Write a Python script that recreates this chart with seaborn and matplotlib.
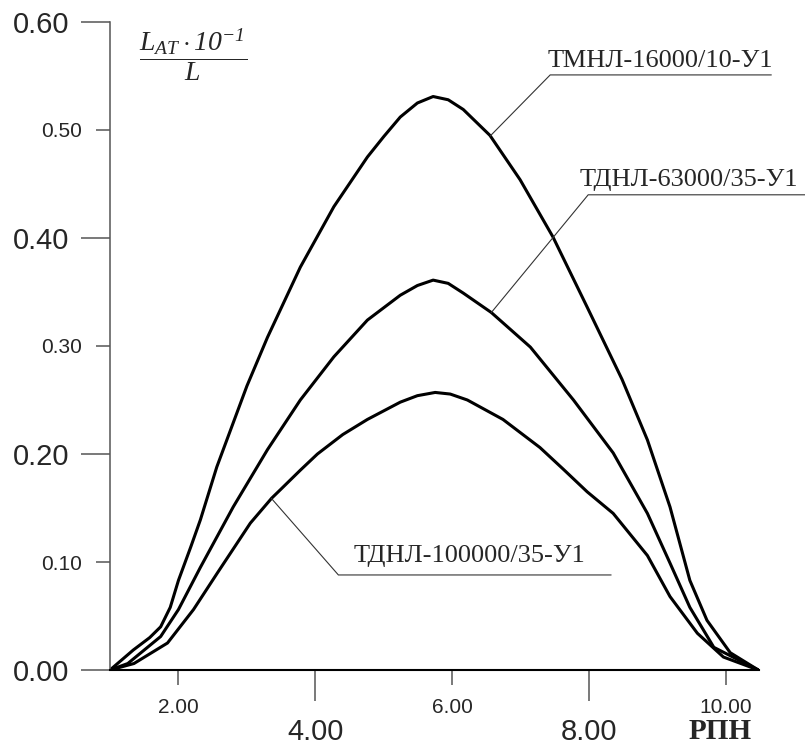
import numpy as np
import pandas as pd
import matplotlib
matplotlib.use("Agg")
import matplotlib.pyplot as plt
import seaborn as sns
from matplotlib.ticker import FormatStrFormatter

# ---------------- data ----------------
series_names = ["ТМНЛ-16000/10-У1", "ТДНЛ-63000/35-У1", "ТДНЛ-100000/35-У1"]

x_16000 = [1.00, 1.34, 1.58, 1.74, 1.88, 2.00, 2.18, 2.32, 2.56, 3.00, 3.30, 3.78, 4.27, 4.76, 5.00,
           5.24, 5.49, 5.72, 5.94, 6.16, 6.55, 6.99, 7.47, 7.97, 8.48, 8.85, 9.18, 9.47, 9.72,
           10.06, 10.47]
y_16000 = [0.000, 0.0185, 0.030, 0.040, 0.058, 0.083, 0.114, 0.139, 0.188, 0.263, 0.308, 0.373, 0.429,
           0.475, 0.494, 0.512, 0.525, 0.531, 0.528, 0.519, 0.495, 0.454, 0.401, 0.336, 0.269,
           0.213, 0.151, 0.083, 0.046, 0.016, 0.000]

x_63000 = [1.00, 1.26, 1.74, 2.00, 2.32, 2.80, 3.30, 3.78, 4.27, 4.76, 5.24, 5.49, 5.72,
           5.94, 6.16, 6.57, 7.14, 7.77, 8.35, 8.85, 9.18, 9.47, 9.82, 10.47]
y_63000 = [0.000, 0.006, 0.031, 0.056, 0.095, 0.151, 0.204, 0.250, 0.290, 0.324, 0.347, 0.356, 0.361,
           0.358, 0.349, 0.331, 0.299, 0.250, 0.201, 0.145, 0.099, 0.058, 0.021, 0.000]

x_100000 = [1.00, 1.35, 1.84, 2.22, 2.57, 3.05, 3.36, 3.49, 3.78, 4.03, 4.40, 4.76, 5.24, 5.49, 5.75,
            5.97, 6.22, 6.74, 7.28, 7.62, 7.97, 8.35, 8.85, 9.18, 9.58, 9.96, 10.47]
y_100000 = [0.000, 0.006, 0.025, 0.056, 0.090, 0.136, 0.159, 0.167, 0.185, 0.200, 0.218, 0.232, 0.248,
            0.254, 0.257, 0.2555, 0.250, 0.232, 0.206, 0.186, 0.165, 0.145, 0.106, 0.068, 0.034,
            0.012, 0.000]

x_major_ticks = [4, 8]
x_minor_ticks = [2, 6, 10]
y_major_ticks = [0.0, 0.2, 0.4, 0.6]
y_minor_ticks = [0.1, 0.3, 0.5]

xs = [x_16000, x_63000, x_100000]
ys = [y_16000, y_63000, y_100000]
df = pd.concat([pd.DataFrame({"РПН": x, "val": y, "name": n})
                for x, y, n in zip(xs, ys, series_names)], ignore_index=True)

# ---------------- style ----------------
sns.set_style("white")
plt.rcParams["font.family"] = ["Liberation Sans", "DejaVu Sans"]
plt.rcParams["mathtext.fontset"] = "custom"
plt.rcParams["mathtext.it"] = "Liberation Serif:italic"
plt.rcParams["mathtext.rm"] = "Liberation Serif:italic"

W, H = 805, 747
fig = plt.figure(figsize=(W / 100, H / 100), dpi=100)
ax = fig.add_axes([110 / W, 77 / H, 649 / W, 648 / H])

sns.lineplot(data=df, x="РПН", y="val", hue="name", palette=["black"] * 3,
             estimator=None, sort=False, legend=False, linewidth=2.2, ax=ax)
for ln in ax.lines:
    ln.set_solid_joinstyle("round")

ax.set_xlim(1.0, 10.48)
ax.set_ylim(0, 0.6)
ax.set_xlabel("")
ax.set_ylabel("")

for s in ["top", "right"]:
    ax.spines[s].set_visible(False)
ax.spines["left"].set_color("#555555")
ax.spines["left"].set_linewidth(1.1)
ax.spines["bottom"].set_color("black")
ax.spines["bottom"].set_linewidth(1.5)

ax.set_xticks(x_major_ticks)
ax.set_xticks(x_minor_ticks, minor=True)
ax.set_yticks(y_major_ticks)
ax.set_yticks(y_minor_ticks, minor=True)
fmt = FormatStrFormatter("%.2f")
for a in (ax.xaxis, ax.yaxis):
    a.set_major_formatter(fmt)
    a.set_minor_formatter(fmt)

tc = "#555555"
ax.tick_params(axis="both", which="both", bottom=True, left=True, top=False, right=False,
               labelbottom=True, labelleft=True)
ax.tick_params(axis="y", which="major", direction="out", length=21, width=1.1, color=tc,
               labelsize=21, pad=8.5)
ax.tick_params(axis="y", which="minor", direction="out", length=10, width=1.1, color=tc,
               labelsize=15, pad=10.5)
ax.tick_params(axis="x", which="major", direction="out", length=22, width=1.1, color=tc,
               labelsize=21, pad=12.5)
ax.tick_params(axis="x", which="minor", direction="out", length=11, width=1.1, color=tc,
               labelsize=15, pad=9.5)

# ---------------- callouts ----------------
# (anchor x on curve, elbow x, elbow y, line end x, text offset in points)
callouts = [
    (6.555, 7.43, 0.551, 10.66, (-2, 6)),
    (6.57, 7.985, 0.440, 11.2, (-6, 6)),
    (3.358, 4.336, 0.088, 8.32, (11, 9)),
]
for (ax_x, ex, ey, endx, off), x, y, name in zip(callouts, xs, ys, series_names):
    ay = np.interp(ax_x, x, y)
    ax.plot([ax_x, ex, endx], [ay, ey, ey], color="#333333", lw=0.8, clip_on=False,
            solid_joinstyle="miter")
    ax.annotate(name, xy=(ex, ey), xytext=off, textcoords="offset points",
                ha="left", va="baseline", fontsize=19, family="Liberation Serif",
                annotation_clip=False)

# y-axis quantity (fraction) and x-axis name
fig.text(193 / W, 1 - 55 / H, r"$\dfrac{L_{AT}\cdot10^{-1}}{L}$", ha="center", va="center",
         fontsize=20)
fig.text(689 / W, 1 - 739 / H, "РПН", family="Liberation Serif", weight="bold",
         fontsize=21, ha="left", va="baseline")

fig.savefig("out.png", dpi=100, facecolor="white")
